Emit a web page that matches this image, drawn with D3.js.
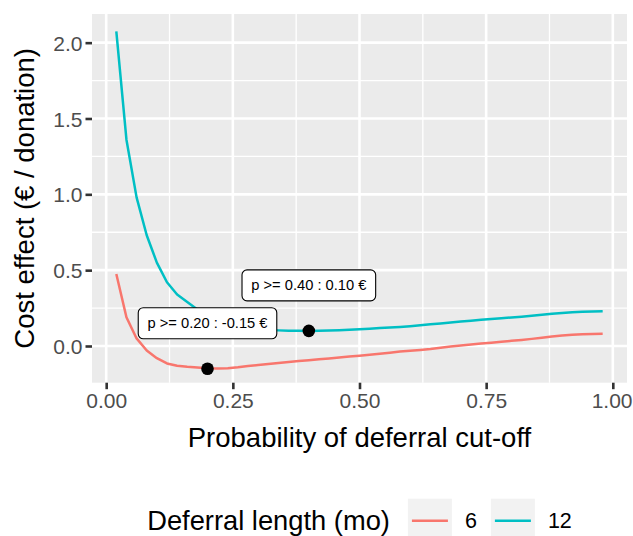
<!DOCTYPE html>
<html>
<head>
<meta charset="utf-8">
<script src="https://cdn.jsdelivr.net/npm/d3@7"></script>
<style>
  html, body { margin: 0; padding: 0; background: #fff; }
  svg { display: block; font-family: "Liberation Sans", Arial, Helvetica, sans-serif; }
</style>
</head>
<body>
<svg id="chart" width="633" height="536"></svg>
<script>
// Cut-off probabilities (x) shared by both series
const probs = d3.range(1, 50).map(i => +(i * 0.02).toFixed(2));

// Cost effect (€ / donation), 6-month deferral
const cost6 = [
  0.475, 0.19, 0.05, -0.03, -0.08, -0.115, -0.13, -0.137, -0.142, -0.147,
  -0.148, -0.146, -0.14, -0.132, -0.125, -0.118, -0.112, -0.106, -0.099, -0.094,
  -0.088, -0.082, -0.076, -0.070, -0.064, -0.058, -0.051, -0.044, -0.037, -0.031,
  -0.026, -0.020, -0.012, -0.004, 0.003, 0.010, 0.016, 0.022, 0.028, 0.034,
  0.040, 0.047, 0.055, 0.063, 0.069, 0.074, 0.077, 0.079, 0.080
];

// Cost effect (€ / donation), 12-month deferral
const cost12 = [
  2.075, 1.36, 0.98, 0.73, 0.55, 0.42, 0.34, 0.29, 0.24, 0.19,
  0.16, 0.14, 0.125, 0.115, 0.108, 0.105, 0.103, 0.101, 0.100, 0.099,
  0.100, 0.102, 0.104, 0.107, 0.110, 0.114, 0.118, 0.122, 0.126, 0.131,
  0.137, 0.143, 0.149, 0.155, 0.161, 0.167, 0.173, 0.178, 0.183, 0.188,
  0.193, 0.199, 0.206, 0.213, 0.218, 0.222, 0.225, 0.227, 0.229
];

const seriesNames = ["6", "12"];
const seriesColors = ["#F8766D", "#00BFC4"];

// Highlighted optimum per series
const optP = [0.20, 0.40];
const optCost = [-0.15, 0.10];
const labelNudge = 0.3;

const xTicks = [0, 0.25, 0.5, 0.75, 1];
const xMinor = [0.125, 0.375, 0.625, 0.875];
const yTicks = [0, 0.5, 1, 1.5, 2];
const yMinor = [0.25, 0.75, 1.25, 1.75];

const xDomain = [-0.028, 1.028];
const yDomain = [-0.242, 2.189];

const W = 633;
const svg = d3.select("#chart");
const panel = { left: 92, right: 627, top: 14, bottom: 382.7 };

const x = d3.scaleLinear().domain(xDomain).range([panel.left, panel.right]);
const y = d3.scaleLinear().domain(yDomain).range([panel.bottom, panel.top]);

// Number formats with a plain hyphen for negatives
const locale = d3.formatLocale({ decimal: ".", thousands: ",", grouping: [3], currency: ["", "€"], minus: "-" });
const fmt1 = locale.format(".1f");
const fmt2 = locale.format(".2f");

// Panel background
svg.append("rect")
  .attr("x", panel.left).attr("y", panel.top)
  .attr("width", panel.right - panel.left).attr("height", panel.bottom - panel.top)
  .attr("fill", "#EBEBEB");

const grid = svg.append("g");
grid.selectAll(".xminor").data(xMinor).join("line")
  .attr("x1", d => x(d)).attr("x2", d => x(d))
  .attr("y1", panel.top).attr("y2", panel.bottom)
  .attr("stroke", "#fff").attr("stroke-width", 1.3);
grid.selectAll(".yminor").data(yMinor).join("line")
  .attr("y1", d => y(d)).attr("y2", d => y(d))
  .attr("x1", panel.left).attr("x2", panel.right)
  .attr("stroke", "#fff").attr("stroke-width", 1.3);
grid.selectAll(".xmajor").data(xTicks).join("line")
  .attr("x1", d => x(d)).attr("x2", d => x(d))
  .attr("y1", panel.top).attr("y2", panel.bottom)
  .attr("stroke", "#fff").attr("stroke-width", 2.6);
grid.selectAll(".ymajor").data(yTicks).join("line")
  .attr("y1", d => y(d)).attr("y2", d => y(d))
  .attr("x1", panel.left).attr("x2", panel.right)
  .attr("stroke", "#fff").attr("stroke-width", 2.6);

// Axes
const xAxis = svg.append("g")
  .attr("transform", `translate(0,${panel.bottom})`)
  .call(d3.axisBottom(x).tickValues(xTicks).tickFormat(fmt2).tickSize(6.5).tickPadding(4));
const yAxis = svg.append("g")
  .attr("transform", `translate(${panel.left},0)`)
  .call(d3.axisLeft(y).tickValues(yTicks).tickFormat(fmt1).tickSize(6.5).tickPadding(3));
[xAxis, yAxis].forEach(a => {
  a.select(".domain").remove();
  a.selectAll(".tick line").attr("stroke", "#333333").attr("stroke-width", 2.6);
  a.selectAll(".tick text").attr("fill", "#4D4D4D").style("font-size", "21px")
    .style("font-family", "'Liberation Sans', Arial, sans-serif");
});
yAxis.selectAll(".tick text").attr("dy", "0.36em");
// keep the last x tick label inside the canvas
xAxis.selectAll(".tick text").each(function (d) {
  const w = this.getComputedTextLength();
  const overflow = x(d) + w / 2 - (W - 1);
  if (overflow > 0) d3.select(this).attr("dx", -overflow);
});

// Series lines
const series = [cost6, cost12];
const line = d3.line().x((d, i) => x(probs[i])).y(d => y(d));
svg.append("g").selectAll("path").data(series).join("path")
  .attr("d", d => line(d))
  .attr("fill", "none")
  .attr("stroke", (d, i) => seriesColors[i])
  .attr("stroke-width", 2.5)
  .attr("stroke-linejoin", "round");

// Optimum points
svg.append("g").selectAll("circle").data(optP).join("circle")
  .attr("cx", d => x(d)).attr("cy", (d, i) => y(optCost[i]))
  .attr("r", 6.3).attr("fill", "#000");

// Optimum labels
const labels = svg.append("g").selectAll("g").data(optP).join("g")
  .attr("transform", (d, i) => `translate(${x(d)},${y(optCost[i] + labelNudge)})`);
labels.append("text")
  .attr("text-anchor", "middle").attr("dy", "0.35em")
  .style("font-size", "14.7px").attr("fill", "#000")
  .text((d, i) => `p >= ${fmt2(d)} : ${fmt2(optCost[i])} €`);
labels.each(function () {
  const g = d3.select(this);
  const w = g.select("text").node().getComputedTextLength();
  const bw = w + 18.5, bh = 31;
  g.insert("rect", "text")
    .attr("x", -bw / 2).attr("y", -bh / 2)
    .attr("width", bw).attr("height", bh)
    .attr("rx", 5).attr("ry", 5)
    .attr("fill", "#fff").attr("stroke", "#000").attr("stroke-width", 1.1);
});

// Axis titles
svg.append("text")
  .attr("x", (panel.left + panel.right) / 2).attr("y", 447)
  .attr("text-anchor", "middle").style("font-size", "27.5px").attr("fill", "#000")
  .text("Probability of deferral cut-off");
svg.append("text")
  .attr("transform", `translate(34,${(panel.top + panel.bottom) / 2}) rotate(-90)`)
  .attr("text-anchor", "middle").style("font-size", "27.5px").attr("fill", "#000")
  .text("Cost effect (€ / donation)");

// Legend
const legendY = 520.7;
const legend = svg.append("g");
const lt = legend.append("text")
  .attr("x", 0).attr("y", legendY).attr("dy", "0.35em")
  .style("font-size", "27.3px").attr("fill", "#000")
  .text("Deferral length (mo)");
let cx = lt.node().getComputedTextLength() + 18;
const keySize = 44;
seriesNames.forEach((name, i) => {
  legend.append("rect")
    .attr("x", cx).attr("y", legendY - keySize / 2)
    .attr("width", keySize).attr("height", keySize)
    .attr("fill", "#F2F2F2");
  legend.append("line")
    .attr("x1", cx + 4).attr("x2", cx + keySize - 4)
    .attr("y1", legendY).attr("y2", legendY)
    .attr("stroke", seriesColors[i]).attr("stroke-width", 2.5);
  cx += keySize + 13;
  const t = legend.append("text")
    .attr("x", cx).attr("y", legendY).attr("dy", "0.35em")
    .style("font-size", "21.5px").attr("fill", "#000")
    .text(name);
  cx += t.node().getComputedTextLength() + 14;
});
const totalW = cx - 14;
legend.attr("transform", `translate(${(panel.left + panel.right) / 2 - totalW / 2},0)`);
</script>
</body>
</html>
